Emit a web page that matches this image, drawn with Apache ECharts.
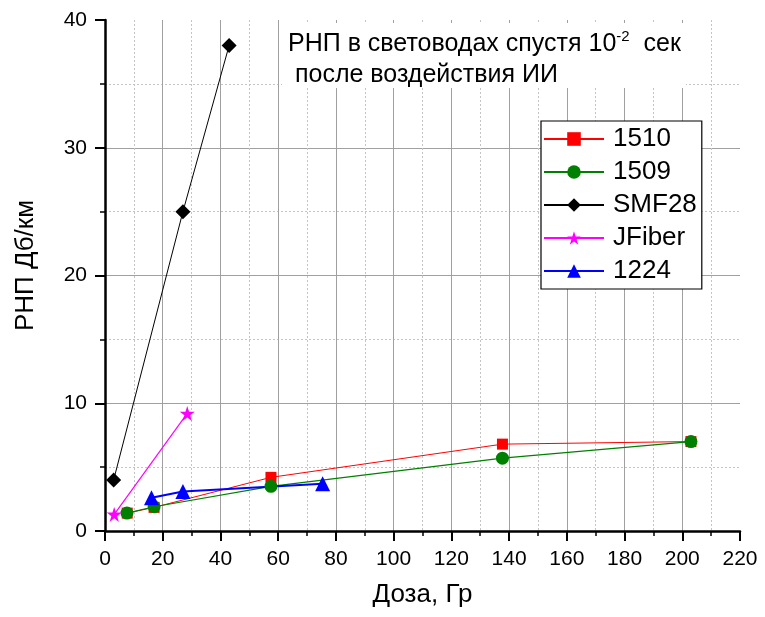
<!DOCTYPE html>
<html><head><meta charset="utf-8">
<script src="https://cdn.jsdelivr.net/npm/echarts@6/dist/echarts.min.js"></script>
<style>html,body{margin:0;padding:0;background:#fff}#c{width:765px;height:617px}</style>
</head><body><div id="c"></div>
<script>
const seriesNames = ['1510', '1509', 'SMF28', 'JFiber', '1224'];
const x1510 = [7.7, 17, 57.5, 137.7, 203];
const y1510 = [1.4, 1.85, 4.2, 6.8, 7.0];
const x1509 = [7.6, 17, 57.5, 137.7, 203];
const y1509 = [1.4, 1.9, 3.5, 5.7, 7.0];
const xSMF28 = [3, 27, 43];
const ySMF28 = [4.0, 25.0, 38.0];
const xJFiber = [3.2, 28.5];
const yJFiber = [1.3, 9.2];
const x1224 = [16.1, 27, 75.4];
const y1224 = [2.6, 3.1, 3.7];
const xTicks = [0, 20, 40, 60, 80, 100, 120, 140, 160, 180, 200, 220];
const yTicks = [0, 10, 20, 30, 40];

const FONT = 'Liberation Sans, Arial, sans-serif';
const star = 'path://M50,0 L61.8,35.1 L98.9,35.1 L68.9,56.9 L80.3,91.9 L50,70.2 L19.7,91.9 L31.1,56.9 L1.1,35.1 L38.2,35.1 Z';
const zip = (xs, ys) => xs.map((x, i) => [x, ys[i]]);

const chart = echarts.init(document.getElementById('c'), null, {renderer: 'canvas'});
function mk(name, xs, ys, color, symbol, size, width) {
  return {
    name, type: 'line', data: zip(xs, ys), symbol, symbolSize: size,
    lineStyle: {color, width}, itemStyle: {color, borderWidth: 0},
    color, animation: false, z: 3
  };
}
const axisCommon = {
  axisLine: {show: true, onZero: false, lineStyle: {color: '#000', width: 2.5}},
  axisTick: {show: true, inside: false, length: 10, lineStyle: {color: '#000', width: 2}},
  minorTick: {show: true, splitNumber: 2, length: 5, lineStyle: {color: '#000', width: 1.5}},
  splitLine: {show: true, showMaxLine: false, lineStyle: {color: '#a0a0a0', width: 1}},
  minorSplitLine: {show: true, lineStyle: {color: '#c4c4c4', width: 1, type: [2, 2]}}
};
chart.setOption({
  animation: false,
  title: {
    left: 282, top: 23,
    padding: [6, 5, 0, 6],
    backgroundColor: '#fff',
    text: '{a|РНП в световодах спустя 10}{s|-2}{a|  сек}\n{a| после воздействия ИИ}',
    textStyle: {
      fontWeight: 'normal',
      rich: {
        a: {fontFamily: FONT, fontSize: 25, fontWeight: 'normal', color: '#000', lineHeight: 31},
        s: {fontFamily: FONT, fontSize: 15, fontWeight: 'normal', color: '#000', verticalAlign: 'top', lineHeight: 31, padding: [0, 0, 13, 0]}
      }
    },
    z: 2
  },
  grid: {left: 105, right: 25, top: 20, bottom: 86, containLabel: false},
  legend: {
    orient: 'vertical', left: 541, top: 121,
    data: seriesNames,
    backgroundColor: '#fff', borderColor: '#000', borderWidth: 1.2,
    padding: [5, 5, 5, 2],
    itemWidth: 60, itemHeight: 17, itemGap: 7,
    textStyle: {fontFamily: FONT, fontSize: 26, lineHeight: 26, color: '#000', padding: [0, 0, 0, 4]}
  },
  xAxis: Object.assign({
    type: 'value', min: 0, max: 220, interval: 20,
    name: 'Доза, Гр', nameLocation: 'middle', nameGap: 51,
    nameTextStyle: {fontFamily: FONT, fontSize: 26, color: '#000'},
    axisLabel: {fontFamily: FONT, fontSize: 21, color: '#000', margin: 18,
      formatter: v => xTicks.includes(v) ? String(v) : ''}
  }, axisCommon),
  yAxis: Object.assign({
    type: 'value', min: 0, max: 40, interval: 10,
    name: 'РНП Дб/км', nameLocation: 'middle', nameGap: 66,
    nameTextStyle: {fontFamily: FONT, fontSize: 26, color: '#000', padding: [0, 0, 0, 20]},
    axisLabel: {fontFamily: FONT, fontSize: 21, color: '#000', margin: 18,
      formatter: v => yTicks.includes(v) ? String(v) : ''}
  }, axisCommon),
  series: [
    mk('1510', x1510, y1510, '#ff0000', 'rect', 11, 1),
    mk('1509', x1509, y1509, '#008000', 'circle', 13, 1.2),
    mk('SMF28', xSMF28, ySMF28, '#000000', 'diamond', 15, 1),
    mk('JFiber', xJFiber, yJFiber, '#ff00ff', star, 15, 1.2),
    mk('1224', x1224, y1224, '#0000ff', 'triangle', 15, 2)
  ]
});
</script></body></html>
